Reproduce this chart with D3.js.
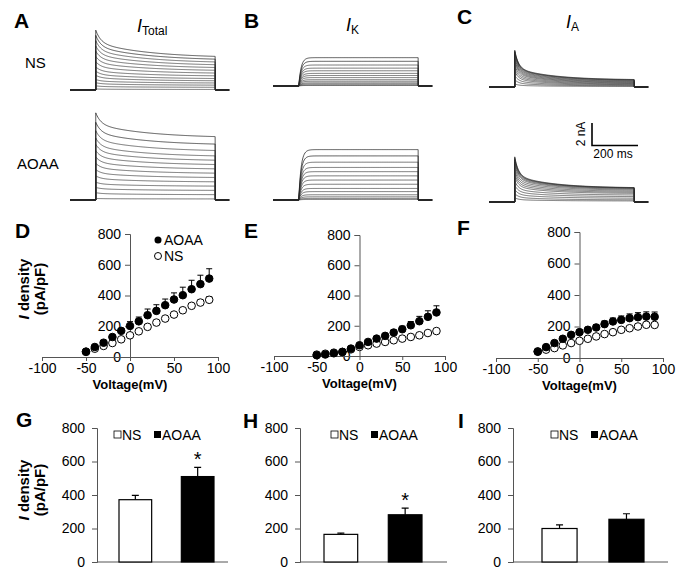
<!DOCTYPE html>
<html><head><meta charset="utf-8">
<script src="https://cdn.jsdelivr.net/npm/d3@7"></script>
<style>
body{margin:0;background:#fff;}
text{font-family:"Liberation Sans",Arial,sans-serif;}
</style></head>
<body><svg id="c" width="685" height="581"></svg>
<script>
// ---------- DATA ----------
// Current traces (nA): peak and end-of-pulse amplitude for each sweep
const traceTotalNS_peak = [0.1,0.4,0.7,1.0,1.4,1.8,2.2,2.7,3.2,3.7,4.2,4.7,5.2,5.7];
const traceTotalNS_end  = [0.05,0.25,0.45,0.65,0.85,1.05,1.3,1.55,1.8,2.05,2.3,2.55,2.8,3.05];
const traceTotalAOAA_peak = [0.15,0.7,1.2,1.7,2.3,2.9,3.5,4.1,4.7,5.3,5.9,6.6,7.4,8.3];
const traceTotalAOAA_end  = [0.1,0.5,0.9,1.3,1.7,2.1,2.5,2.9,3.3,3.7,4.1,4.6,5.2,5.9];
const traceKNS_end   = [0.05,0.1,0.2,0.3,0.45,0.6,0.8,1.0,1.2,1.45,1.7,2.0,2.35,2.7];
const traceKAOAA_end = [0.05,0.15,0.3,0.5,0.8,1.1,1.5,1.9,2.3,2.7,3.1,3.6,4.2,4.8];
const traceANS_peak = [0.3,0.7,1.1,1.5,1.8,2.1,2.4,2.6,2.8,3.0,3.15,3.3,3.4,3.5];
const traceANS_end  = [0.05,0.1,0.15,0.2,0.25,0.3,0.35,0.4,0.45,0.5,0.55,0.6,0.64,0.67];
const traceAAOAA_peak = [0.4,0.8,1.2,1.6,2.0,2.4,2.7,3.0,3.3,3.6,3.8,4.0,4.15,4.3];
const traceAAOAA_end  = [0.1,0.2,0.35,0.5,0.65,0.8,0.9,1.0,1.1,1.18,1.24,1.28,1.31,1.33];

// I-V curves (pA/pF)
const voltages = [-50,-40,-30,-20,-10,0,10,20,30,40,50,60,70,80,90];
const ivTotalAOAA = [35,65,93,130,170,202,232,272,300,337,374,402,441,474,510];
const ivTotalAOAA_sem = [5,6,8,10,15,28,28,40,40,40,43,52,58,58,64];
const ivTotalNS = [33,54,72,91,115,141,167,196,224,250,276,304,333,354,372];
const ivTotalNS_sem = [3,4,5,5,6,7,8,9,10,11,12,13,14,16,20];
const ivKAOAA = [5,10,18,27,49,71,93,115,133,155,177,203,230,259,288];
const ivKAOAA_sem = [2,2,3,4,5,6,8,10,13,16,20,25,32,40,44];
const ivKNS = [9,15,22,27,44,60,71,82,93,104,115,126,137,152,165];
const ivKNS_sem = [1,1,1,2,2,3,3,4,4,5,5,6,6,7,8];
const ivAAOAA = [40,69,95,122,147,164,179,194,215,232,242,253,259,263,262];
const ivAAOAA_sem = [5,6,8,10,12,14,16,18,20,22,25,27,29,30,30];
const ivANS = [42,53,63,80,95,109,122,137,152,164,179,189,200,211,210];
const ivANS_sem = [3,3,4,5,5,6,6,7,8,8,9,10,10,11,12];

// Bar summaries at +90 mV (pA/pF)
const groups = ["NS","AOAA"];
const barTotal = [372,510], barTotal_sem = [26,55];
const barK = [165,282], barK_sem = [7,40];
const barA = [200,255], barA_sem = [22,33];
const yTicks = [0,200,400,600,800];
const xTicks = [-100,-50,0,50,100];

// ---------- DRAW ----------
const svg = d3.select("#c");
svg.append("rect").attr("width",685).attr("height",581).attr("fill","#fff");
const fmt = d => String(d);

// panel letters
const letters = [["A",14,28],["B",244,28],["C",457,24],["D",15,238],["E",244,238],["F",457,235],["G",16,427],["H",243,428],["I",458,428]];
svg.selectAll("text.letter").data(letters).enter().append("text").attr("class","letter")
  .attr("x",d=>d[1]).attr("y",d=>d[2]).text(d=>d[0])
  .attr("font-size",21).attr("font-weight","bold");

// trace titles
function title(x,y,sub){
  const t = svg.append("text").attr("x",x).attr("y",y).attr("font-size",18);
  t.append("tspan").attr("font-style","italic").text("I");
  t.append("tspan").attr("font-size",12).attr("dy",3).text(sub);
}
title(137,32,"Total"); title(346,31,"K"); title(566,28,"A");

// row labels
svg.append("text").attr("x",25).attr("y",68).attr("font-size",15).text("NS");
svg.append("text").attr("x",17).attr("y",169).attr("font-size",15).text("AOAA");

// trace panels
const preMs = -112, postMs = 580, offMs = 520;
function tracePanel(x0, base, peaks, ends, kind){
  const x = d3.scaleLinear().domain([preMs,postMs]).range([x0, x0 + (postMs-preMs)*0.23]);
  const y = d3.scaleLinear().domain([0,10]).range([base, base-105]);
  const g = svg.append("g");
  ends.forEach((e,i)=>{
    const p = peaks ? peaks[i] : e;
    const pts = [[preMs,0],[0,0]];
    for(let t=0;t<=offMs;t+=3){
      let v;
      if(kind==="K") v = e*(1-Math.exp(-t/10));
      else if(kind==="T") v = e+(p-e)*(0.45*Math.exp(-t/22)+0.55*Math.exp(-t/230));
      else v = e+(p-e)*(0.6*Math.exp(-t/16)+0.4*Math.exp(-t/160));
      if(t===0 && kind==="K") v = 0;
      pts.push([t,v]);
    }
    pts.push([offMs,0],[postMs,0]);
    g.append("path").attr("d",d3.line().x(d=>x(d[0])).y(d=>y(d[1]))(pts))
      .attr("fill","none").attr("stroke", i>=ends.length-2?"#222":"#444").attr("stroke-width",0.75);
  });
  g.append("path").attr("d",d3.line().x(d=>x(d[0])).y(d=>y(d[1]))([[preMs,0],[0,0]])).attr("stroke","#222").attr("stroke-width",1.2);
  g.append("path").attr("d",d3.line().x(d=>x(d[0])).y(d=>y(d[1]))([[offMs,0],[postMs,0]])).attr("stroke","#222").attr("stroke-width",1.2);
}
tracePanel(70, 90, traceTotalNS_peak, traceTotalNS_end, "T");
tracePanel(70, 200, traceTotalAOAA_peak, traceTotalAOAA_end, "T");
tracePanel(273, 86, null, traceKNS_end, "K");
tracePanel(273, 200, null, traceKAOAA_end, "K");
tracePanel(489, 87, traceANS_peak, traceANS_end, "A");
tracePanel(489, 202, traceAAOAA_peak, traceAAOAA_end, "A");

// scale bar
svg.append("path").attr("d","M592,123V145.5H638").attr("fill","none").attr("stroke","#000").attr("stroke-width",1.6);
svg.append("text").attr("transform","translate(585,134) rotate(-90)").attr("text-anchor","middle").attr("font-size",12).text("2 nA");
svg.append("text").attr("x",613).attr("y",158).attr("text-anchor","middle").attr("font-size",12).text("200 ms");

// y labels
function ylab(cx,cy){
  const t = svg.append("text").attr("transform",`translate(${cx},${cy}) rotate(-90)`).attr("text-anchor","middle")
    .attr("font-size",15).attr("font-weight","bold");
  t.append("tspan").attr("x",0).attr("dy",0).attr("font-style","italic").text("I");
  t.append("tspan").text(" density");
  t.append("tspan").attr("x",0).attr("dy",16).text("(pA/pF)");
}
ylab(29,289); ylab(29,490);

// IV panels
function ivPanel(xr, yr, aoaa, aoaaSem, ns, nsSem, legend){
  const x = d3.scaleLinear().domain([-100,100]).range(xr);
  const y = d3.scaleLinear().domain([0,800]).range(yr);
  const g = svg.append("g");
  const ya = g.append("g").attr("transform",`translate(${x(0)},0)`)
    .call(d3.axisLeft(y).tickValues(yTicks).tickFormat(fmt).tickSize(5).tickPadding(4));
  const xa = g.append("g").attr("transform",`translate(0,${y(0)})`)
    .call(d3.axisBottom(x).tickValues(xTicks).tickFormat(fmt).tickSize(4).tickPadding(2));
  [ya,xa].forEach(a=>{a.select(".domain").attr("stroke","#555");a.selectAll("line").attr("stroke","#555");
    a.selectAll("text").attr("font-size",14).attr("font-family","Liberation Sans, Arial").attr("fill","#000");});
  g.append("text").attr("x",x(0)).attr("y",y(0)+32).attr("text-anchor","middle").attr("font-size",13)
    .attr("font-weight","bold").text("Voltage(mV)");
  const series = [[ns,nsSem,false],[aoaa,aoaaSem,true]];
  series.forEach(([vals,sem])=>{
    vals.forEach((v,i)=>{
      const cx = x(voltages[i]);
      g.append("path").attr("d",`M${cx},${y(v)}V${y(v+sem[i])}M${cx-3},${y(v+sem[i])}H${cx+3}`)
        .attr("stroke","#000").attr("stroke-width",1);
    });
  });
  series.forEach(([vals,sem,fill])=>{
    g.selectAll(null).data(vals).enter().append("circle")
      .attr("cx",(d,i)=>x(voltages[i])).attr("cy",d=>y(d)).attr("r",3.8)
      .attr("fill",fill?"#000":"#fff").attr("stroke","#000").attr("stroke-width",1);
  });
  if(legend){
    g.append("circle").attr("cx",158).attr("cy",240).attr("r",3.5).attr("fill","#000");
    g.append("text").attr("x",164).attr("y",245).attr("font-size",14).text("AOAA");
    g.append("circle").attr("cx",158).attr("cy",256).attr("r",3.5).attr("fill","#fff").attr("stroke","#000");
    g.append("text").attr("x",164).attr("y",261).attr("font-size",14).text("NS");
  }
}
ivPanel([42,218],[357,234], ivTotalAOAA, ivTotalAOAA_sem, ivTotalNS, ivTotalNS_sem, true);
ivPanel([274,445],[356,235], ivKAOAA, ivKAOAA_sem, ivKNS, ivKNS_sem, false);
ivPanel([496,663],[358,232], ivAAOAA, ivAAOAA_sem, ivANS, ivANS_sem, false);

// bar panels
function barPanel(axX, axEnd, bL, bR, vals, sem, star, lx){
  const y = d3.scaleLinear().domain([0,800]).range([562,428]);
  const x = d3.scaleBand().domain(groups).range([bL,bR]).paddingInner(0.476).paddingOuter(0);
  const g = svg.append("g");
  const ya = g.append("g").attr("transform",`translate(${axX},0)`)
    .call(d3.axisLeft(y).tickValues(yTicks).tickFormat(fmt).tickSize(5).tickPadding(7));
  ya.select(".domain").attr("stroke","#555"); ya.selectAll("line").attr("stroke","#555");
  ya.selectAll("text").attr("font-size",14).attr("font-family","Liberation Sans, Arial").attr("fill","#000");
  g.append("line").attr("x1",axX).attr("x2",axEnd).attr("y1",y(0)).attr("y2",y(0)).attr("stroke","#555");
  groups.forEach((k,i)=>{
    const cx = x(k)+x.bandwidth()/2;
    g.append("path").attr("d",`M${cx},${y(vals[i])}V${y(vals[i]+sem[i])}M${cx-3.5},${y(vals[i]+sem[i])}H${cx+3.5}`)
      .attr("stroke","#000").attr("stroke-width",1.2);
    g.append("rect").attr("x",x(k)).attr("width",x.bandwidth()).attr("y",y(vals[i])).attr("height",y(0)-y(vals[i]))
      .attr("fill",i?"#000":"#fff").attr("stroke","#000").attr("stroke-width",1.2);
  });
  if(star){
    const cx = x("AOAA")+x.bandwidth()/2;
    g.append("text").attr("x",cx).attr("y",y(vals[1]+sem[1])-1).attr("text-anchor","middle").attr("font-size",20).text("*");
  }
  g.append("rect").attr("x",lx).attr("y",431).attr("width",7).attr("height",7).attr("fill","#fff").attr("stroke","#000").attr("stroke-width",0.8);
  g.append("text").attr("x",lx+8).attr("y",440).attr("font-size",14).text("NS");
  g.append("rect").attr("x",lx+40).attr("y",431).attr("width",7).attr("height",7).attr("fill","#000");
  g.append("text").attr("x",lx+48).attr("y",440).attr("font-size",14).text("AOAA");
}
barPanel(97, 228, 119, 214, barTotal, barTotal_sem, true, 114);
barPanel(300, 447, 324, 422, barK, barK_sem, true, 331);
barPanel(513, 668, 542, 644, barA, barA_sem, false, 551);
</script></body></html>
